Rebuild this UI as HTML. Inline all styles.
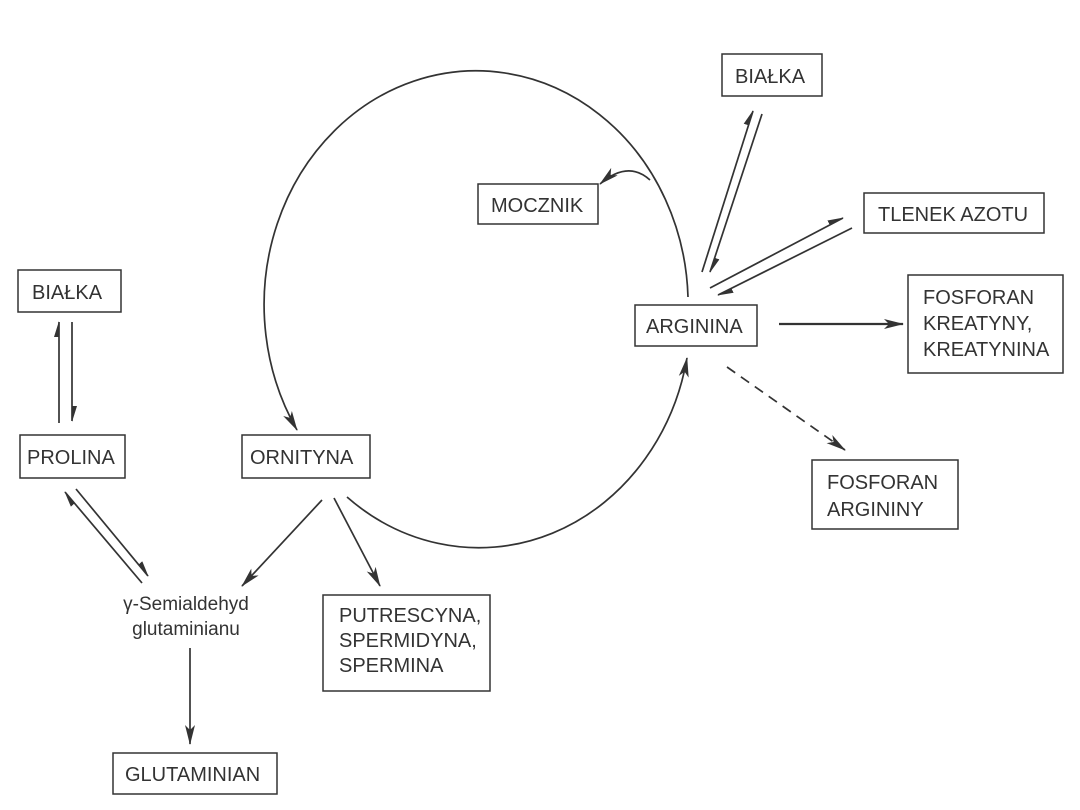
<!DOCTYPE html>
<html><head><meta charset="utf-8"><style>
html,body{margin:0;padding:0;background:#fff;}
svg{display:block;}
text{font-family:"Liberation Sans",sans-serif;font-size:20px;fill:#333;}
rect{fill:#fff;stroke:#333;stroke-width:1.5;}
</style></head><body>
<svg width="1080" height="810" viewBox="0 0 1080 810">
<defs>
<marker id="a" markerWidth="20" markerHeight="12" refX="19" refY="6" orient="auto" markerUnits="userSpaceOnUse">
<path d="M0,1 L20,6 L0,11 L5,6 Z" fill="#333"/></marker>
<marker id="h" markerWidth="16" markerHeight="8" refX="15" refY="6" orient="auto" markerUnits="userSpaceOnUse">
<path d="M0,1 L16,6 L0,6 Z" fill="#333"/></marker>
</defs>
<g fill="none" stroke="#333" stroke-width="1.7">
<path d="M688 297 A212 234 0 1 0 297 430" marker-end="url(#a)"/>
<path d="M347 497 A212 234 0 0 0 687 358" marker-end="url(#a)"/>
<path d="M650 180 Q628 160 600 184" marker-end="url(#a)"/>
<line x1="702" y1="272" x2="753" y2="111" marker-end="url(#h)"/>
<line x1="762" y1="114" x2="710" y2="272" marker-end="url(#h)"/>
<line x1="710" y1="288" x2="843" y2="218" marker-end="url(#h)"/>
<line x1="852" y1="228" x2="718" y2="295" marker-end="url(#h)"/>
<line x1="779" y1="324" x2="903" y2="324" stroke-width="2.2" marker-end="url(#a)"/>
<line x1="727" y1="367" x2="845" y2="450" stroke-dasharray="10,7" marker-end="url(#a)"/>
<line x1="59" y1="423" x2="59" y2="322" marker-end="url(#h)"/>
<line x1="72" y1="322" x2="72" y2="421" marker-end="url(#h)"/>
<line x1="142" y1="583" x2="65" y2="492" marker-end="url(#h)"/>
<line x1="76" y1="489" x2="148" y2="576" marker-end="url(#h)"/>
<line x1="322" y1="500" x2="242" y2="586" marker-end="url(#a)"/>
<line x1="334" y1="498" x2="380" y2="586" marker-end="url(#a)"/>
<line x1="190" y1="648" x2="190" y2="744" marker-end="url(#a)"/>
</g>
<rect x="722" y="54" width="100" height="42"/><text x="735" y="83">BIAŁKA</text>
<rect x="478" y="184" width="120" height="40"/><text x="491" y="212">MOCZNIK</text>
<rect x="864" y="193" width="180" height="40"/><text x="878" y="221">TLENEK AZOTU</text>
<rect x="635" y="305" width="122" height="41"/><text x="646" y="333">ARGININA</text>
<rect x="908" y="275" width="155" height="98"/>
<text x="923" y="304">FOSFORAN</text><text x="923" y="330">KREATYNY,</text><text x="923" y="356">KREATYNINA</text>
<rect x="812" y="460" width="146" height="69"/><text x="827" y="489">FOSFORAN</text><text x="827" y="516">ARGININY</text>
<rect x="18" y="270" width="103" height="42"/><text x="32" y="299">BIAŁKA</text>
<rect x="20" y="435" width="105" height="43"/><text x="27" y="464">PROLINA</text>
<rect x="242" y="435" width="128" height="43"/><text x="250" y="464">ORNITYNA</text>
<text x="186" y="610" text-anchor="middle" style="font-size:19px">γ-Semialdehyd</text>
<text x="186" y="635" text-anchor="middle" style="font-size:19px">glutaminianu</text>
<rect x="323" y="595" width="167" height="96"/>
<text x="339" y="622">PUTRESCYNA,</text><text x="339" y="647">SPERMIDYNA,</text><text x="339" y="672">SPERMINA</text>
<rect x="113" y="753" width="164" height="41"/><text x="125" y="781">GLUTAMINIAN</text>
</svg>
</body></html>
